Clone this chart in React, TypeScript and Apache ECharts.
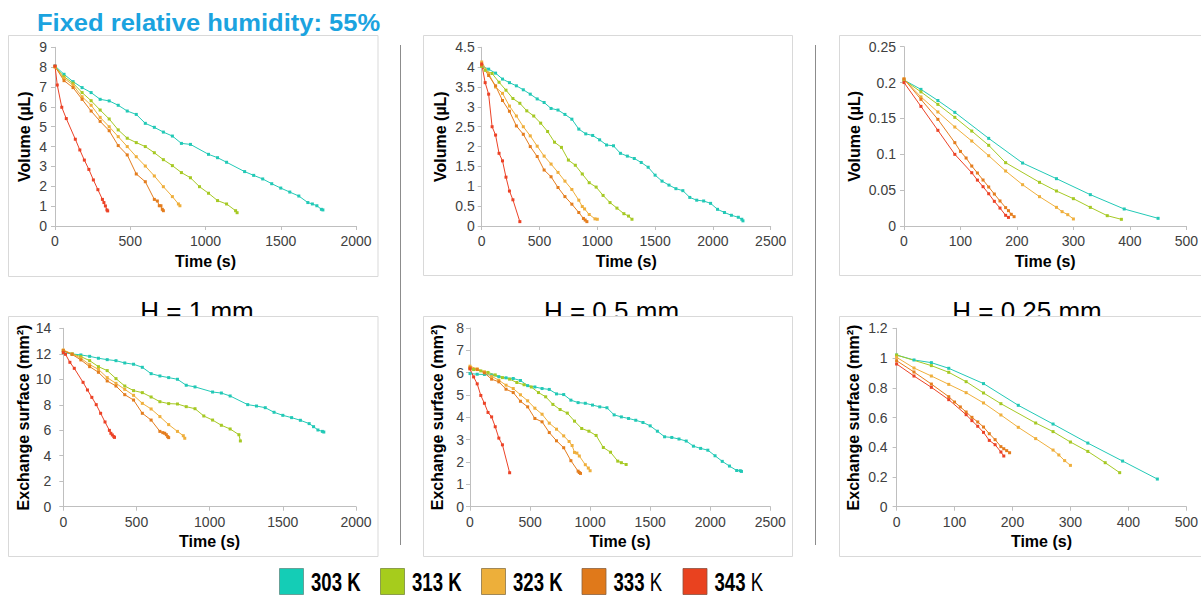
import { useEffect, useRef } from 'react';
import * as echarts from 'echarts';

// ---------- DATA (time in s) ----------
// Volume (µL), H = 1 mm
const tV1_303 = [0,60,120,180,240,300,360,420,480,540,600,660,720,780,840,900,1020,1080,1140,1260,1320,1380,1440,1500,1560,1620,1680,1710,1740,1770,1780];
const vV1_303 = [8.06,7.64,7.27,6.97,6.72,6.38,6.30,6.08,5.79,5.62,5.17,4.97,4.73,4.53,4.16,4.11,3.61,3.44,3.21,2.74,2.55,2.37,2.13,1.91,1.71,1.51,1.18,1.11,1.02,0.84,0.81];
const tV1_313 = [0,60,120,180,240,300,360,420,480,540,600,660,720,780,840,900,960,1020,1080,1140,1200,1210];
const vV1_313 = [8.03,7.52,7.19,6.72,6.31,5.84,5.39,4.84,4.42,4.20,4.00,3.69,3.34,3.04,2.69,2.43,1.98,1.65,1.28,1.11,0.77,0.67];
const tV1_323 = [0,60,120,180,240,300,360,420,480,540,600,660,720,780,820,830];
const vV1_323 = [8.00,7.44,7.10,6.51,6.08,5.47,5.00,4.50,4.00,3.49,3.02,2.52,1.98,1.48,1.11,1.02];
const tV1_333 = [0,60,120,180,240,300,360,420,480,540,600,660,680,693,704,713,720];
const vV1_333 = [8.03,7.32,6.97,6.38,5.79,5.27,4.80,4.05,3.58,2.62,2.23,1.34,1.26,1.02,1.02,0.84,0.77];
const tV1_343 = [0,15,45,75,135,165,195,225,255,285,315,325,335,345,350];
const vV1_343 = [8.06,7.10,5.98,5.41,4.37,3.83,3.32,2.85,2.32,1.83,1.34,1.18,1.01,0.81,0.76];

// Volume (µL), H = 0.5 mm
const tV05_303 = [0,60,120,180,240,300,360,420,480,540,600,660,720,780,840,900,960,1020,1080,1140,1200,1260,1320,1380,1440,1500,1560,1620,1680,1740,1800,1860,1920,1980,2040,2100,2160,2220,2250,2260];
const vV05_303 = [4.03,3.95,3.85,3.70,3.61,3.53,3.43,3.32,3.20,3.11,2.96,2.92,2.81,2.69,2.44,2.32,2.28,2.17,2.04,2.02,1.83,1.76,1.70,1.60,1.48,1.28,1.13,1.03,0.94,0.89,0.72,0.65,0.63,0.57,0.42,0.34,0.27,0.22,0.17,0.13];
const tV05_313 = [0,30,90,150,210,270,330,390,450,510,570,630,690,750,810,870,930,990,1050,1110,1170,1230,1270,1300];
const vV05_313 = [4.02,3.92,3.84,3.62,3.42,3.21,3.09,2.90,2.77,2.59,2.38,2.11,1.98,1.66,1.53,1.31,1.09,0.98,0.77,0.59,0.45,0.31,0.25,0.17];
const tV05_323 = [0,60,120,180,240,300,360,420,480,540,600,660,720,780,840,870,890,930,980,1000];
const vV05_323 = [4.13,3.84,3.50,3.34,3.02,2.77,2.50,2.27,2.01,1.76,1.56,1.35,1.13,0.92,0.65,0.49,0.43,0.29,0.18,0.17];
const tV05_333 = [0,60,120,180,240,300,360,420,480,540,600,660,720,780,840,880,895,910];
const vV05_333 = [4.05,3.79,3.53,3.16,2.89,2.52,2.31,2.00,1.75,1.41,1.24,0.97,0.74,0.55,0.34,0.19,0.15,0.11];
const tV05_343 = [0,30,60,90,120,150,180,210,240,270,330];
const vV05_343 = [4.08,3.61,3.32,2.50,2.29,1.83,1.64,1.23,0.88,0.66,0.11];

// Volume (µL), H = 0.25 mm
const tV025_303 = [0,30,60,90,150,210,270,330,390,450];
const vV025_303 = [0.2035,0.1905,0.175,0.1585,0.1222,0.0878,0.066,0.0437,0.0237,0.0107];
const tV025_313 = [0,30,60,90,120,150,180,240,270,300,330,360,385];
const vV025_313 = [0.2035,0.187,0.1696,0.1515,0.1324,0.1125,0.0883,0.0609,0.0488,0.0381,0.026,0.0144,0.0093];
const tV025_323 = [0,30,60,90,120,150,180,210,240,270,280,290,300];
const vV025_323 = [0.205,0.180,0.159,0.138,0.1185,0.098,0.0767,0.0576,0.0409,0.026,0.020,0.0158,0.0098];
const tV025_333 = [0,30,60,90,100,110,120,130,140,150,160,170,180,185,190,195];
const vV025_333 = [0.205,0.1766,0.1487,0.1162,0.104,0.0948,0.0836,0.0739,0.0641,0.0544,0.0446,0.0349,0.0256,0.0214,0.0163,0.013];
const tV025_343 = [0,30,60,90,120,130,140,150,160,170,180,185];
const vV025_343 = [0.200,0.1668,0.1334,0.0999,0.0743,0.064,0.0548,0.045,0.0344,0.025,0.0149,0.012];

// Exchange surface (mm²), H = 1 mm
const tS1_303 = tV1_303;
const vS1_303 = [12.09,11.99,11.91,11.80,11.65,11.54,11.46,11.28,11.18,10.94,10.44,10.26,10.13,10.00,9.53,9.40,9.00,8.92,8.69,8.01,7.90,7.77,7.41,7.17,6.99,6.78,6.52,6.28,6.02,5.91,5.86];
const tS1_313 = tV1_313;
const vS1_313 = [12.25,11.99,11.78,11.46,10.99,10.68,10.05,9.47,9.11,8.95,8.61,8.24,8.09,8.06,7.85,7.69,7.12,6.80,6.39,6.10,5.65,5.16];
const tS1_323 = tV1_323;
const vS1_323 = [12.30,11.99,11.65,11.15,10.78,10.13,9.68,9.21,8.74,8.11,7.67,7.07,6.44,5.91,5.57,5.37];
const tS1_333 = tV1_333;
const vS1_333 = [12.25,11.95,11.52,10.99,10.55,9.87,9.47,8.79,8.37,7.33,6.80,5.91,5.81,5.76,5.65,5.50,5.42];
const tS1_343 = tV1_343;
const vS1_343 = [12.09,11.96,11.33,10.86,9.76,9.16,8.58,8.01,7.33,6.65,5.99,5.76,5.63,5.50,5.44];

// Exchange surface (mm²), H = 0.5 mm
const tS05_303 = tV05_303;
const vS05_303 = [5.96,5.93,5.92,5.89,5.82,5.77,5.74,5.65,5.42,5.36,5.29,5.25,5.05,5.02,4.77,4.66,4.63,4.55,4.47,4.43,4.11,4.02,3.95,3.87,3.77,3.62,3.38,3.13,3.10,3.03,2.94,2.71,2.61,2.53,2.28,2.03,1.82,1.62,1.61,1.58];
const tS05_313 = [0,30,90,150,210,270,330,390,450,510,570,630,690,750,810,870,930,990,1050,1110,1170,1230,1260,1300];
const vS05_313 = [6.18,6.14,6.08,6.01,5.90,5.78,5.71,5.56,5.46,5.36,5.11,4.92,4.58,4.35,4.19,3.83,3.50,3.38,3.19,2.65,2.44,2.04,1.97,1.89];
const tS05_323 = [0,60,120,180,240,300,360,420,480,540,600,660,720,780,825,850,870,890,910,960,985,1000];
const vS05_323 = [6.29,6.17,6.04,5.84,5.66,5.44,5.29,5.01,4.74,4.41,4.14,3.74,3.47,3.17,2.92,2.74,2.43,2.40,2.27,1.88,1.73,1.61];
const tS05_333 = [0,60,120,180,240,300,360,420,480,540,600,660,720,780,840,900,910,920];
const vS05_333 = [6.23,6.14,5.99,5.71,5.59,5.26,5.11,4.72,4.47,3.95,3.80,3.32,2.95,2.64,2.06,1.59,1.53,1.49];
const tS05_343 = [0,30,60,90,120,150,180,210,240,270,330];
const vS05_343 = [6.17,5.81,5.50,4.98,4.63,4.22,4.02,3.58,3.07,2.77,1.52];

// Exchange surface (mm²), H = 0.25 mm
const tS025_303 = tV025_303;
const vS025_303 = [1.02,0.987,0.969,0.931,0.828,0.682,0.556,0.428,0.307,0.186];
const tS025_313 = [0,60,90,120,150,180,240,270,300,330,360,385];
const vS025_313 = [1.02,0.949,0.904,0.841,0.765,0.693,0.563,0.505,0.435,0.372,0.296,0.229];
const tS025_323 = tV025_323;
const vS025_323 = [1.005,0.933,0.879,0.823,0.767,0.698,0.617,0.534,0.458,0.381,0.348,0.310,0.278];
const tS025_333 = tV025_333;
const vS025_333 = [0.982,0.906,0.825,0.740,0.704,0.671,0.637,0.601,0.570,0.536,0.491,0.451,0.404,0.390,0.377,0.363];
const tS025_343 = tV025_343;
const vS025_343 = [0.96,0.879,0.803,0.720,0.619,0.579,0.541,0.500,0.446,0.417,0.368,0.341];

const temperatures = ['303', '313', '323', '333', '343'];
const panelTitles = ['H = 1 mm', 'H = 0.5 mm', 'H = 0.25 mm'];
const mainTitle = 'Fixed relative humidity: 55%';

// ---------- STYLE / LAYOUT ----------
const FONT = '"Liberation Sans", Arial, sans-serif';
const lineColors = ['#22C9B6', '#A6C924', '#EFAF3C', '#E47D1E', '#EC4226'];
const boxColors = ['#14CDB6', '#A6CC1C', '#EDAF3A', '#E0791A', '#E9421F'];
const boxStroke = ['#5E8F86', '#7A8A3A', '#8A7446', '#8A6240', '#8A5040'];

const panels = [
  { grid: { left: 55, top: 47.3, width: 301, height: 178.7 }, xMax: 2000, xInt: 500, yMax: 9, yInt: 1, yName: 'Volume (µL)', yGap: 23, yMargin: 8,
    data: [[tV1_303, vV1_303], [tV1_313, vV1_313], [tV1_323, vV1_323], [tV1_333, vV1_333], [tV1_343, vV1_343]] },
  { grid: { left: 481.7, top: 47.3, width: 289, height: 178.7 }, xMax: 2500, xInt: 500, yMax: 4.5, yInt: 0.5, yName: 'Volume (µL)', yGap: 33, yMargin: 7,
    data: [[tV05_303, vV05_303], [tV05_313, vV05_313], [tV05_323, vV05_323], [tV05_333, vV05_333], [tV05_343, vV05_343]] },
  { grid: { left: 904, top: 46.7, width: 285.3, height: 179.3 }, xMax: 500, xInt: 100, yMax: 0.25, yInt: 0.05, yName: 'Volume (µL)', yGap: 42, yMargin: 8,
    data: [[tV025_303, vV025_303], [tV025_313, vV025_313], [tV025_323, vV025_323], [tV025_333, vV025_333], [tV025_343, vV025_343]] },
  { grid: { left: 63.3, top: 328.3, width: 292.7, height: 178.4 }, xMax: 2000, xInt: 500, yMax: 14, yInt: 2, yName: 'Exchange surface (mm²)', yGap: 30, yMargin: 12,
    data: [[tS1_303, vS1_303], [tS1_313, vS1_313], [tS1_323, vS1_323], [tS1_333, vS1_333], [tS1_343, vS1_343]] },
  { grid: { left: 470, top: 328, width: 300.3, height: 178.7 }, xMax: 2500, xInt: 500, yMax: 8, yInt: 1, yName: 'Exchange surface (mm²)', yGap: 25, yMargin: 6,
    data: [[tS05_303, vS05_303], [tS05_313, vS05_313], [tS05_323, vS05_323], [tS05_333, vS05_333], [tS05_343, vS05_343]] },
  { grid: { left: 896.6, top: 328.3, width: 293.4, height: 178.4 }, xMax: 500, xInt: 100, yMax: 1.2, yInt: 0.2, yName: 'Exchange surface (mm²)', yGap: 35, yMargin: 9,
    data: [[tS025_303, vS025_303], [tS025_313, vS025_313], [tS025_323, vS025_323], [tS025_333, vS025_333], [tS025_343, vS025_343]] },
];

const frames = [
  [8.5, 35.5, 369.5, 241], [423.5, 35.5, 369, 240], [839.5, 35.5, 370, 240],
  [8.5, 316.5, 369.5, 240], [423.5, 316.5, 369, 240], [839.5, 316.5, 370, 240],
];
const hTitleX = [197, 611.5, 1027];
const legendX = [279.5, 380.5, 481.5, 582, 683];

function buildOption() {
  const axisLine = { show: true, onZero: false, lineStyle: { color: '#BFBFBF', width: 1 } };
  const axisTick = { show: true, length: 4, lineStyle: { color: '#BFBFBF', width: 1 } };
  const nameStyle = { fontFamily: FONT, fontWeight: 'bold', fontSize: 16, color: '#000' };
  const plain = (v: number) => String(Math.round(v * 1000) / 1000);

  const series: any[] = [];
  panels.forEach((p, i) => {
    p.data.forEach(([t, v], k) => {
      series.push({
        type: 'line', name: temperatures[k] + ' K', xAxisIndex: i, yAxisIndex: i,
        data: t.map((x, j) => [x, v[j]]),
        symbol: 'rect', symbolSize: 3, showSymbol: true, z: 4, silent: true,
        lineStyle: { width: 1, color: lineColors[k] },
        itemStyle: { color: lineColors[k] },
      });
    });
  });

  const graphic: any[] = [];
  graphic.push({
    type: 'text', x: 37, y: 23, scaleX: 1.11, z: 5,
    style: { text: mainTitle, fontFamily: FONT, fontWeight: 'bold', fontSize: 23, lineHeight: 24, fill: '#1BA3DF', align: 'left', verticalAlign: 'middle' },
  });
  panelTitles.forEach((t, i) => {
    graphic.push({
      type: 'text', x: hTitleX[i], y: 311, z: 0,
      style: { text: t, fontFamily: FONT, fontSize: 26, fill: '#000', align: 'center', verticalAlign: 'middle' },
    });
  });
  frames.forEach(([x, y, w, h]) => {
    graphic.push({
      type: 'rect', shape: { x, y, width: w, height: h }, z: 1,
      style: { fill: '#FFFFFF', stroke: '#D9D9D9', lineWidth: 1 },
    });
  });
  [400.5, 815.5].forEach((x) => {
    graphic.push({ type: 'line', shape: { x1: x, y1: 45, x2: x, y2: 545 }, z: 2, style: { stroke: '#8C8C8C', lineWidth: 1 } });
  });
  temperatures.forEach((t, k) => {
    const x = legendX[k];
    graphic.push({ type: 'rect', shape: { x, y: 568.5, width: 24, height: 26 }, z: 5, style: { fill: boxColors[k], stroke: boxStroke[k], lineWidth: 0.8 } });
    graphic.push({
      type: 'text', x: x + 31.5, y: 582.5, scaleX: 0.715, z: 5,
      style: {
        text: '{d|' + t + '} {' + (k >= 3 ? 'n' : 'd') + '|K}',
        fontFamily: FONT, fontSize: 26, lineHeight: 20, fill: '#000', align: 'left', verticalAlign: 'middle',
        rich: {
          d: { fontFamily: FONT, fontWeight: 'bold', fontSize: 26, lineHeight: 20, fill: '#000' },
          n: { fontFamily: FONT, fontWeight: 'normal', fontSize: 26, lineHeight: 20, fill: '#000' },
        },
      },
    });
  });

  return {
    animation: false,
    backgroundColor: '#FFFFFF',
    grid: panels.map((p) => ({ ...p.grid, containLabel: false })),
    xAxis: panels.map((p, i) => ({
      type: 'value', gridIndex: i, min: 0, max: p.xMax, interval: p.xInt, z: 3,
      name: 'Time (s)', nameLocation: 'middle', nameGap: 27, nameTextStyle: nameStyle,
      axisLine, axisTick,
      axisLabel: { fontFamily: FONT, fontSize: 14, color: '#404040', margin: 8, formatter: plain },
      splitLine: { show: false },
    })),
    yAxis: panels.map((p, i) => ({
      type: 'value', gridIndex: i, min: 0, max: p.yMax, interval: p.yInt, z: 3,
      name: p.yName, nameLocation: 'middle', nameRotate: 90, nameGap: p.yGap, nameTextStyle: nameStyle,
      axisLine, axisTick,
      axisLabel: { fontFamily: FONT, fontSize: 14, color: '#404040', margin: p.yMargin, formatter: plain },
      splitLine: { show: false },
    })),
    series,
    graphic: { elements: graphic },
  };
}

export default function App() {
  const ref = useRef<HTMLDivElement>(null);
  useEffect(() => {
    if (!ref.current) return;
    const chart = echarts.init(ref.current, undefined, { renderer: 'svg' });
    chart.setOption(buildOption() as any);
    return () => chart.dispose();
  }, []);
  return <div ref={ref} style={{ position: 'absolute', left: 0, top: 0, width: 1201, height: 598, background: '#fff' }} />;
}
